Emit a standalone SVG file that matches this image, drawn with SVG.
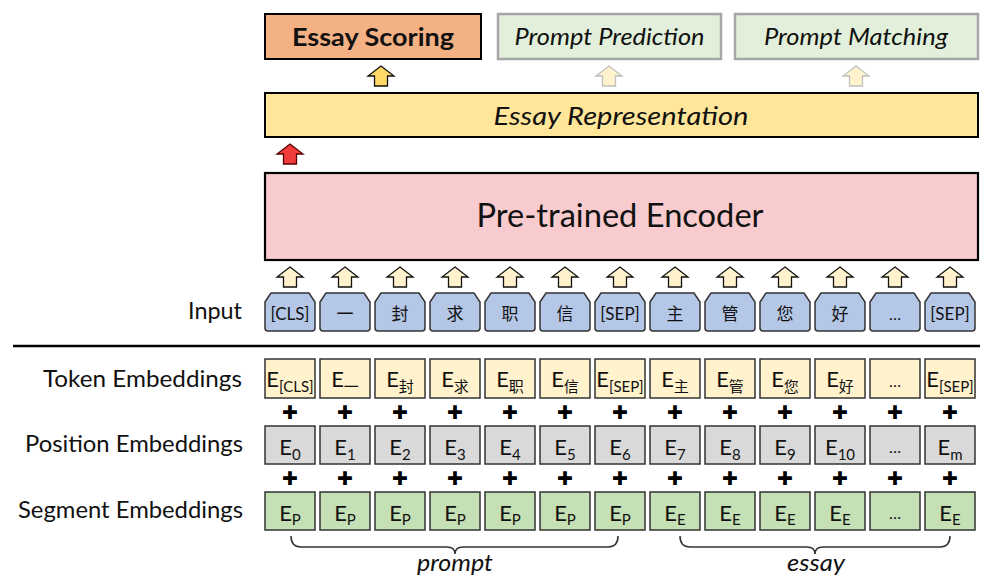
<svg xmlns="http://www.w3.org/2000/svg" width="983" height="576" viewBox="0 0 983 576">
<style>
text{font-family:Lato,"Noto Sans CJK SC",sans-serif;fill:#111}
.lbl{font-size:23px;text-anchor:end}
.e{font-size:22px;text-anchor:middle}
.sub{font-size:15px}
.it{font-style:italic}
.tk{font-size:17px;text-anchor:middle}
.dots{font-size:16px;text-anchor:middle}
.plus{font-family:"DejaVu Sans",sans-serif;font-size:19px;text-anchor:middle;dominant-baseline:central;fill:#000}
.tok{fill:#FFF2CC;stroke:#333;stroke-width:1.5}
.pos{fill:#D9D9D9;stroke:#333;stroke-width:1.5}
.seg{fill:#C5E0B4;stroke:#333;stroke-width:1.5}
.inp{fill:#B4C7E7;stroke:#333;stroke-width:1.5}
.arr{fill:#FFF2CC;stroke:#111;stroke-width:1.3}
.arrL{fill:#FFF2CC;stroke:#BFBFBF;stroke-width:1.3}
.brace{fill:none;stroke:#333;stroke-width:1.5}
</style>
<defs>
<path id="up" d="M0,0 L13,10 L6.5,10 L6.5,20 L-6.5,20 L-6.5,10 L-13,10 Z"/>
<path id="ibox" d="M0,9 L6,0 L44,0 L50,9 L50,35 Q50,38 47,38 L3,38 Q0,38 0,35 Z"/>
</defs>

<g id="essay-scoring">
<rect x="265" y="14" width="216" height="45" fill="#F4B183" stroke="#000" stroke-width="2"/>
<text x="373" y="46" font-size="25" font-weight="bold" text-anchor="middle" textLength="162" lengthAdjust="spacingAndGlyphs">Essay Scoring</text>
</g>
<g id="prompt-prediction">
<rect x="498" y="14" width="223" height="45" fill="#E2EFDA" stroke="#A6A6A6" stroke-width="2.5"/>
<text x="609.5" y="45" font-size="24" class="it" text-anchor="middle" textLength="190" lengthAdjust="spacingAndGlyphs">Prompt Prediction</text>
</g>
<g id="prompt-matching">
<rect x="735" y="14" width="243" height="45" fill="#E2EFDA" stroke="#A6A6A6" stroke-width="2.5"/>
<text x="856" y="45" font-size="24" class="it" text-anchor="middle" textLength="184" lengthAdjust="spacingAndGlyphs">Prompt Matching</text>
</g>
<g id="essay-representation">
<rect x="265" y="93" width="713" height="44" fill="#FFE699" stroke="#000" stroke-width="2"/>
<text x="621" y="125" font-size="26" class="it" text-anchor="middle" textLength="255" lengthAdjust="spacingAndGlyphs">Essay Representation</text>
</g>
<g id="encoder">
<rect x="265" y="173" width="713" height="87" fill="#F8CBCE" stroke="#000" stroke-width="2.2"/>
<text x="620" y="227" font-size="32" text-anchor="middle" textLength="287" lengthAdjust="spacingAndGlyphs">Pre-trained Encoder</text>
</g>

<g id="connectors">
<use href="#up" x="381" y="66" fill="#FFD966" stroke="#111" stroke-width="1.3"/>
<use href="#up" x="609" y="66" class="arrL"/>
<use href="#up" x="856" y="66" class="arrL"/>
<use href="#up" x="290" y="144" fill="#F23B3B" stroke="#5a0000" stroke-width="1.3"/>
<use href="#up" x="290" y="267" class="arr"/>
<use href="#up" x="345" y="267" class="arr"/>
<use href="#up" x="400" y="267" class="arr"/>
<use href="#up" x="455" y="267" class="arr"/>
<use href="#up" x="510" y="267" class="arr"/>
<use href="#up" x="565" y="267" class="arr"/>
<use href="#up" x="620" y="267" class="arr"/>
<use href="#up" x="675" y="267" class="arr"/>
<use href="#up" x="730" y="267" class="arr"/>
<use href="#up" x="785" y="267" class="arr"/>
<use href="#up" x="840" y="267" class="arr"/>
<use href="#up" x="895" y="267" class="arr"/>
<use href="#up" x="950" y="267" class="arr"/>
</g>

<g id="input">
<text x="242" y="319" class="lbl" textLength="54" lengthAdjust="spacingAndGlyphs">Input</text>
<g id="in-0"><use href="#ibox" x="265" y="293" class="inp"/><text x="290" y="320" class="tk">[CLS]</text></g>
<g id="in-1"><use href="#ibox" x="320" y="293" class="inp"/><text x="345" y="320" class="tk">一</text></g>
<g id="in-2"><use href="#ibox" x="375" y="293" class="inp"/><text x="400" y="320" class="tk">封</text></g>
<g id="in-3"><use href="#ibox" x="430" y="293" class="inp"/><text x="455" y="320" class="tk">求</text></g>
<g id="in-4"><use href="#ibox" x="485" y="293" class="inp"/><text x="510" y="320" class="tk">职</text></g>
<g id="in-5"><use href="#ibox" x="540" y="293" class="inp"/><text x="565" y="320" class="tk">信</text></g>
<g id="in-6"><use href="#ibox" x="595" y="293" class="inp"/><text x="620" y="320" class="tk">[SEP]</text></g>
<g id="in-7"><use href="#ibox" x="650" y="293" class="inp"/><text x="675" y="320" class="tk">主</text></g>
<g id="in-8"><use href="#ibox" x="705" y="293" class="inp"/><text x="730" y="320" class="tk">管</text></g>
<g id="in-9"><use href="#ibox" x="760" y="293" class="inp"/><text x="785" y="320" class="tk">您</text></g>
<g id="in-10"><use href="#ibox" x="815" y="293" class="inp"/><text x="840" y="320" class="tk">好</text></g>
<g id="in-11"><use href="#ibox" x="870" y="293" class="inp"/><text x="895" y="320" class="dots">…</text></g>
<g id="in-12"><use href="#ibox" x="925" y="293" class="inp"/><text x="950" y="320" class="tk">[SEP]</text></g>
</g>

<line x1="13" y1="346" x2="980" y2="346" stroke="#000" stroke-width="2.5"/>

<g id="token-embeddings">
<text x="242" y="387" class="lbl" textLength="199" lengthAdjust="spacingAndGlyphs">Token Embeddings</text>
<g id="te-0"><rect x="265" y="359" width="50" height="39" class="tok"/><text x="290" y="387" class="e">E<tspan class="sub" dy="5">[CLS]</tspan></text></g>
<g id="te-1"><rect x="320" y="359" width="50" height="39" class="tok"/><text x="345" y="387" class="e">E<tspan class="sub" dy="5">一</tspan></text></g>
<g id="te-2"><rect x="375" y="359" width="50" height="39" class="tok"/><text x="400" y="387" class="e">E<tspan class="sub" dy="5">封</tspan></text></g>
<g id="te-3"><rect x="430" y="359" width="50" height="39" class="tok"/><text x="455" y="387" class="e">E<tspan class="sub" dy="5">求</tspan></text></g>
<g id="te-4"><rect x="485" y="359" width="50" height="39" class="tok"/><text x="510" y="387" class="e">E<tspan class="sub" dy="5">职</tspan></text></g>
<g id="te-5"><rect x="540" y="359" width="50" height="39" class="tok"/><text x="565" y="387" class="e">E<tspan class="sub" dy="5">信</tspan></text></g>
<g id="te-6"><rect x="595" y="359" width="50" height="39" class="tok"/><text x="620" y="387" class="e">E<tspan class="sub" dy="5">[SEP]</tspan></text></g>
<g id="te-7"><rect x="650" y="359" width="50" height="39" class="tok"/><text x="675" y="387" class="e">E<tspan class="sub" dy="5">主</tspan></text></g>
<g id="te-8"><rect x="705" y="359" width="50" height="39" class="tok"/><text x="730" y="387" class="e">E<tspan class="sub" dy="5">管</tspan></text></g>
<g id="te-9"><rect x="760" y="359" width="50" height="39" class="tok"/><text x="785" y="387" class="e">E<tspan class="sub" dy="5">您</tspan></text></g>
<g id="te-10"><rect x="815" y="359" width="50" height="39" class="tok"/><text x="840" y="387" class="e">E<tspan class="sub" dy="5">好</tspan></text></g>
<g id="te-11"><rect x="870" y="359" width="50" height="39" class="tok"/><text x="895" y="387" class="dots">…</text></g>
<g id="te-12"><rect x="925" y="359" width="50" height="39" class="tok"/><text x="950" y="387" class="e">E<tspan class="sub" dy="5">[SEP]</tspan></text></g>
</g>

<g id="plus-signs">
<text x="290" y="412" class="plus">✚</text><text x="345" y="412" class="plus">✚</text><text x="400" y="412" class="plus">✚</text><text x="455" y="412" class="plus">✚</text><text x="510" y="412" class="plus">✚</text><text x="565" y="412" class="plus">✚</text><text x="620" y="412" class="plus">✚</text><text x="675" y="412" class="plus">✚</text><text x="730" y="412" class="plus">✚</text><text x="785" y="412" class="plus">✚</text><text x="840" y="412" class="plus">✚</text><text x="895" y="412" class="plus">✚</text><text x="950" y="412" class="plus">✚</text>
<text x="290" y="478" class="plus">✚</text><text x="345" y="478" class="plus">✚</text><text x="400" y="478" class="plus">✚</text><text x="455" y="478" class="plus">✚</text><text x="510" y="478" class="plus">✚</text><text x="565" y="478" class="plus">✚</text><text x="620" y="478" class="plus">✚</text><text x="675" y="478" class="plus">✚</text><text x="730" y="478" class="plus">✚</text><text x="785" y="478" class="plus">✚</text><text x="840" y="478" class="plus">✚</text><text x="895" y="478" class="plus">✚</text><text x="950" y="478" class="plus">✚</text>
</g>

<g id="position-embeddings">
<text x="243" y="452" class="lbl" textLength="218" lengthAdjust="spacingAndGlyphs">Position Embeddings</text>
<g id="pe-0"><rect x="265" y="426" width="50" height="38" class="pos"/><text x="290" y="455" class="e">E<tspan class="sub" dy="5">0</tspan></text></g>
<g id="pe-1"><rect x="320" y="426" width="50" height="38" class="pos"/><text x="345" y="455" class="e">E<tspan class="sub" dy="5">1</tspan></text></g>
<g id="pe-2"><rect x="375" y="426" width="50" height="38" class="pos"/><text x="400" y="455" class="e">E<tspan class="sub" dy="5">2</tspan></text></g>
<g id="pe-3"><rect x="430" y="426" width="50" height="38" class="pos"/><text x="455" y="455" class="e">E<tspan class="sub" dy="5">3</tspan></text></g>
<g id="pe-4"><rect x="485" y="426" width="50" height="38" class="pos"/><text x="510" y="455" class="e">E<tspan class="sub" dy="5">4</tspan></text></g>
<g id="pe-5"><rect x="540" y="426" width="50" height="38" class="pos"/><text x="565" y="455" class="e">E<tspan class="sub" dy="5">5</tspan></text></g>
<g id="pe-6"><rect x="595" y="426" width="50" height="38" class="pos"/><text x="620" y="455" class="e">E<tspan class="sub" dy="5">6</tspan></text></g>
<g id="pe-7"><rect x="650" y="426" width="50" height="38" class="pos"/><text x="675" y="455" class="e">E<tspan class="sub" dy="5">7</tspan></text></g>
<g id="pe-8"><rect x="705" y="426" width="50" height="38" class="pos"/><text x="730" y="455" class="e">E<tspan class="sub" dy="5">8</tspan></text></g>
<g id="pe-9"><rect x="760" y="426" width="50" height="38" class="pos"/><text x="785" y="455" class="e">E<tspan class="sub" dy="5">9</tspan></text></g>
<g id="pe-10"><rect x="815" y="426" width="50" height="38" class="pos"/><text x="840" y="455" class="e">E<tspan class="sub" dy="5">10</tspan></text></g>
<g id="pe-11"><rect x="870" y="426" width="50" height="38" class="pos"/><text x="895" y="453" class="dots">…</text></g>
<g id="pe-12"><rect x="925" y="426" width="50" height="38" class="pos"/><text x="950" y="455" class="e">E<tspan class="sub" dy="5">m</tspan></text></g>
</g>

<g id="segment-embeddings">
<text x="243" y="518" class="lbl" textLength="225" lengthAdjust="spacingAndGlyphs">Segment Embeddings</text>
<g id="se-0"><rect x="265" y="492" width="50" height="38" class="seg"/><text x="290" y="521" class="e">E<tspan class="sub" dy="4">P</tspan></text></g>
<g id="se-1"><rect x="320" y="492" width="50" height="38" class="seg"/><text x="345" y="521" class="e">E<tspan class="sub" dy="4">P</tspan></text></g>
<g id="se-2"><rect x="375" y="492" width="50" height="38" class="seg"/><text x="400" y="521" class="e">E<tspan class="sub" dy="4">P</tspan></text></g>
<g id="se-3"><rect x="430" y="492" width="50" height="38" class="seg"/><text x="455" y="521" class="e">E<tspan class="sub" dy="4">P</tspan></text></g>
<g id="se-4"><rect x="485" y="492" width="50" height="38" class="seg"/><text x="510" y="521" class="e">E<tspan class="sub" dy="4">P</tspan></text></g>
<g id="se-5"><rect x="540" y="492" width="50" height="38" class="seg"/><text x="565" y="521" class="e">E<tspan class="sub" dy="4">P</tspan></text></g>
<g id="se-6"><rect x="595" y="492" width="50" height="38" class="seg"/><text x="620" y="521" class="e">E<tspan class="sub" dy="4">P</tspan></text></g>
<g id="se-7"><rect x="650" y="492" width="50" height="38" class="seg"/><text x="675" y="521" class="e">E<tspan class="sub" dy="4">E</tspan></text></g>
<g id="se-8"><rect x="705" y="492" width="50" height="38" class="seg"/><text x="730" y="521" class="e">E<tspan class="sub" dy="4">E</tspan></text></g>
<g id="se-9"><rect x="760" y="492" width="50" height="38" class="seg"/><text x="785" y="521" class="e">E<tspan class="sub" dy="4">E</tspan></text></g>
<g id="se-10"><rect x="815" y="492" width="50" height="38" class="seg"/><text x="840" y="521" class="e">E<tspan class="sub" dy="4">E</tspan></text></g>
<g id="se-11"><rect x="870" y="492" width="50" height="38" class="seg"/><text x="895" y="519" class="dots">…</text></g>
<g id="se-12"><rect x="925" y="492" width="50" height="38" class="seg"/><text x="950" y="521" class="e">E<tspan class="sub" dy="4">E</tspan></text></g>
</g>

<g id="prompt-brace">
<path class="brace" d="M291,536 Q291,547 301,547 L447,547 Q455,547 455,554 Q455,547 463,547 L608,547 Q618,547 618,536"/>
<text x="455" y="571" font-size="23" class="it" text-anchor="middle" textLength="76" lengthAdjust="spacingAndGlyphs">prompt</text>
</g>
<g id="essay-brace">
<path class="brace" d="M680,536 Q680,547 690,547 L807,547 Q815,547 815,554 Q815,547 823,547 L940,547 Q950,547 950,536"/>
<text x="816" y="571" font-size="23" class="it" text-anchor="middle" textLength="58" lengthAdjust="spacingAndGlyphs">essay</text>
</g>
</svg>
